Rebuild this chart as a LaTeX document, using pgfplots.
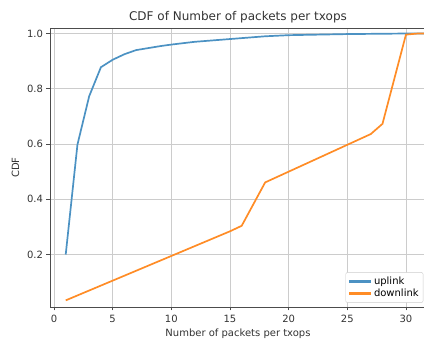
\documentclass[border=0pt]{standalone}
\usepackage{pgfplots}
\pgfplotsset{compat=1.18}
\usepackage{fontspec}
\setmainfont{DejaVu Sans}
\definecolor{c0}{HTML}{1F77B4}
\definecolor{c1}{HTML}{FF7F0E}
\begin{document}
\begin{tikzpicture}
\begin{axis}[
  scale only axis,
  width=376pt, height=279pt,
  xmin=-0.34, xmax=31.71,
  ymin=0.01, ymax=1.02,
  xtick={0,5,10,15,20,25,30},
  ytick={0.2,0.4,0.6,0.8,1.0},
  yticklabel style={/pgf/number format/fixed,/pgf/number format/fixed zerofill,/pgf/number format/precision=1},
  /pgf/number format/assume math mode=true,
  tick label style={font=\fontsize{10}{12}\selectfont, text=black!80},
  xticklabel style={yshift=-1pt},
  label style={font=\fontsize{10}{12}\selectfont, text=black!80},
  title style={font=\fontsize{12}{14}\selectfont, text=black!80, yshift=-5pt},
  title={CDF of Number of packets per txops},
  xlabel={Number of packets per txops},
  ylabel={CDF},
  xlabel style={yshift=1pt},
  ylabel style={yshift=1pt},
  grid=major,
  major grid style={black!20, line width=0.8pt},
  axis line style={black!70, line width=0.8pt},
  tick style={black!70, line width=0.8pt},
  tick align=outside,
  major tick length=3.5pt,
  xtick pos=bottom, ytick pos=left,
  legend cell align=left,
  legend style={font=\fontsize{10}{12}\selectfont, draw=black!20, rounded corners=2pt, fill=white, at={(0.993,0.015)}, anchor=south east, inner sep=2.5pt, row sep=-1pt},
  legend image code/.code={
    \draw[#1, line width=1.8pt, sharp corners] (0pt,-0.6pt) -- (22pt,-0.6pt);
    \draw[#1, line width=1.8pt, sharp corners] (0pt,0pt) -- (22pt,0pt);
    \draw[#1, line width=1.8pt, sharp corners] (0pt,0.6pt) -- (22pt,0.6pt);},
]
\addplot[draw=c0!80, line width=1.7pt] coordinates {
(1,0.2) (2,0.598) (3,0.773) (4,0.878) (5,0.905) (6,0.925) (7,0.94) (8,0.947)
(9,0.954) (10,0.96) (12,0.97) (15,0.98) (18,0.99) (20,0.994) (25,0.998) (30,1.0) (32,1.0)
};
\addlegendentry{uplink}
\addplot[draw=c1!90, line width=1.7pt] coordinates {
(1,0.034) (15,0.284) (16,0.304) (18,0.461) (27,0.636) (28,0.673) (30,0.996) (31,1.0) (32,1.0)
};
\addlegendentry{downlink}
\end{axis}
\pgfresetboundingbox
\path[use as bounding box] ([shift={(-50pt,-38pt)}]current axis.south west) rectangle ([shift={(-2pt,28pt)}]current axis.north east);
\end{tikzpicture}
\end{document}
